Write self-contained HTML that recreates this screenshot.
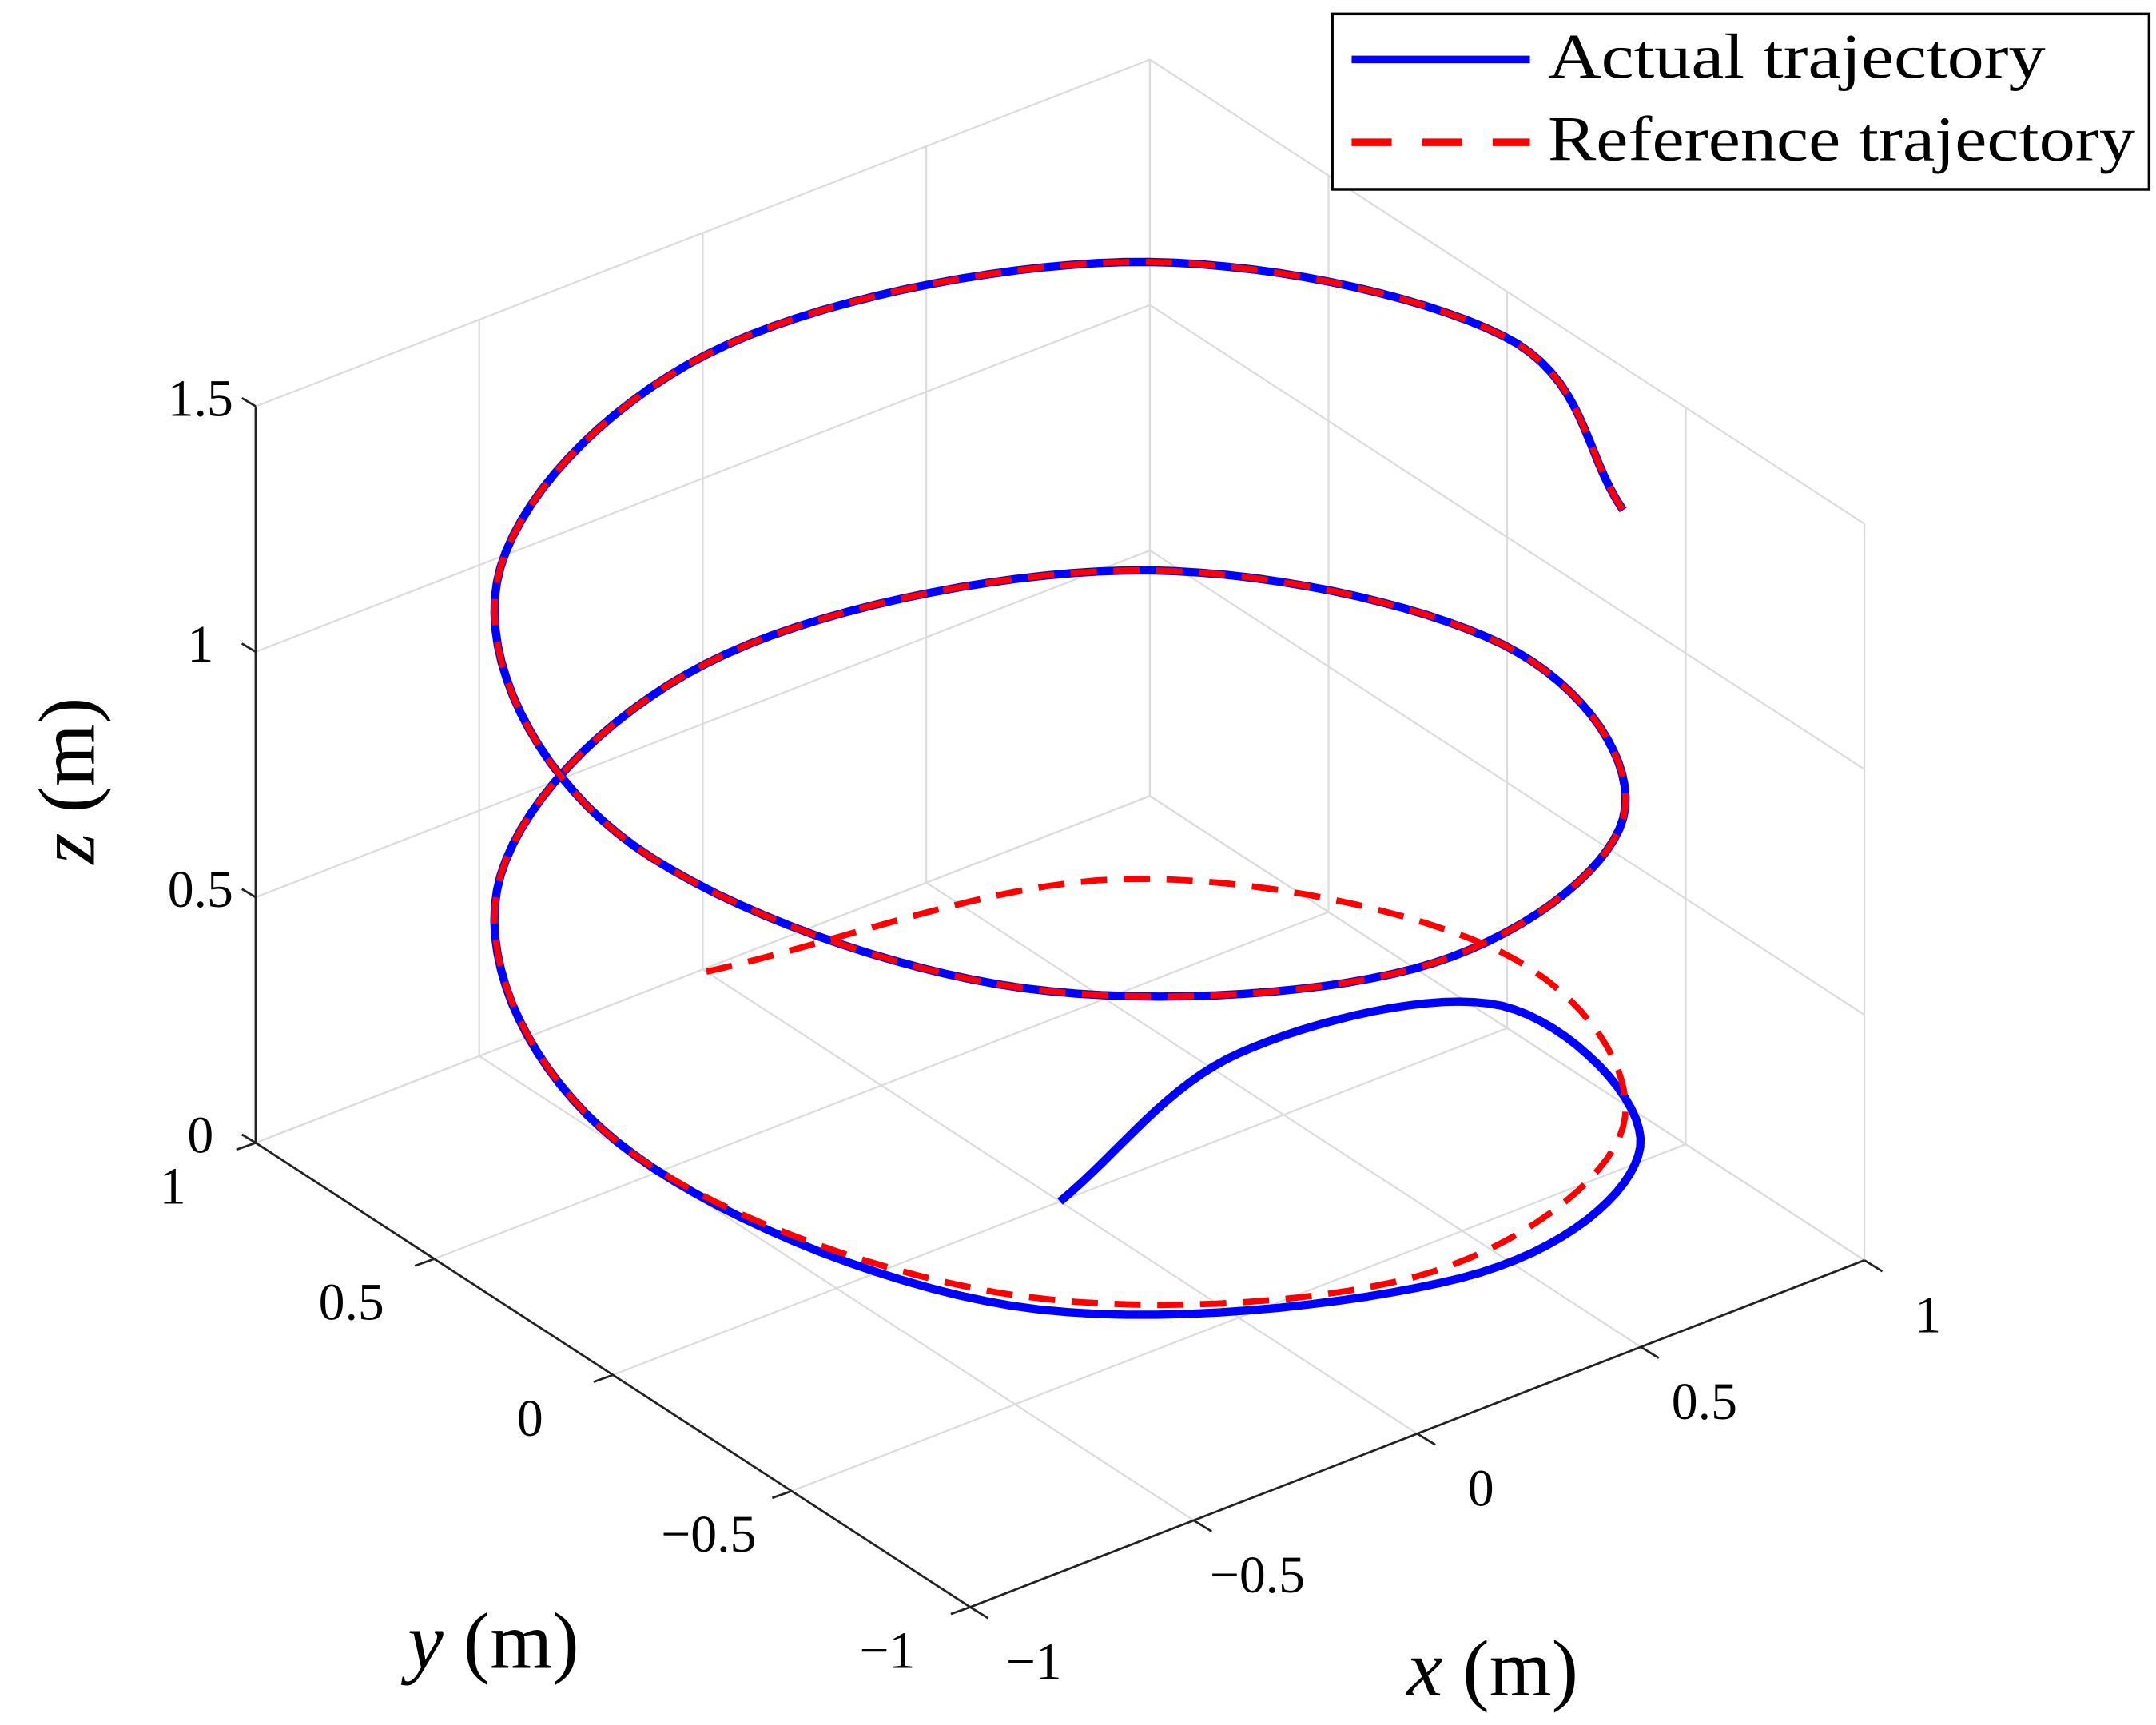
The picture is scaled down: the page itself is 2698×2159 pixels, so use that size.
<!DOCTYPE html>
<html><head><meta charset="utf-8">
<style>html,body{margin:0;padding:0;background:#fff}svg{display:block}
text{font-family:"Liberation Serif",serif;fill:#000}</style></head>
<body>
<svg id="chart" xmlns="http://www.w3.org/2000/svg" width="2698" height="2159" viewBox="0 0 1560 1248.3">
<g id="grid"></g>
<g id="axes"></g>
<g id="series"></g>
<text transform="translate(68,565) rotate(-90)" text-anchor="middle" font-size="58"><tspan font-style="italic">z</tspan> (m)</text>
<text x="357" y="1207" text-anchor="middle" font-size="58"><tspan font-style="italic">y</tspan> (m)</text>
<text x="1080" y="1227" text-anchor="middle" font-size="58"><tspan font-style="italic">x</tspan> (m)</text>
<g>
<rect x="964" y="10" width="591" height="127" fill="#fff" stroke="#000" stroke-width="2"/>
<line x1="978" y1="43" x2="1107" y2="43" stroke="#0000ff" stroke-width="5.5"/>
<text x="1120" y="56" font-size="46" textLength="360" lengthAdjust="spacingAndGlyphs">Actual trajectory</text>
<line x1="978" y1="103" x2="1107" y2="103" stroke="#ff0000" stroke-width="5.5" stroke-dasharray="29,22"/>
<text x="1120" y="116" font-size="46" textLength="425" lengthAdjust="spacingAndGlyphs">Reference trajectory</text>
</g>
</svg>
<script>
// data
const xTicks=[-1,-0.5,0,0.5,1];
const yTicks=[-1,-0.5,0,0.5,1];
const zTicks=[0,0.5,1,1.5];
const xTickLabels=["\u22121","\u22120.5","0","0.5","1"];
const yTickLabels=["\u22121","\u22120.5","0","0.5","1"];
const zTickLabels=["0","0.5","1","1.5"];
const refX=[0,0.700,0.99,0.700,0,-0.700,-0.99,-0.700,0,0.700,0.99,0.700,0,-0.700,-0.99,-0.700,0,0.700,0.99,0.700];
const refY=[0.99,0.700,0,-0.700,-0.99,-0.700,0,0.700,0.99,0.700,0,-0.700,-0.99,-0.700,0,0.700,0.99,0.700,0,-0.700];
const refZ=[0,0.0785,0.157,0.236,0.314,0.393,0.471,0.550,0.628,0.707,0.785,0.864,0.942,1.021,1.100,1.178,1.257,1.335,1.414,1.492];
const actX=[0,0.53,0.914,0.708,0.079,-0.705,-0.99,-0.700,0,0.700,0.99,0.700,0,-0.700,-0.99,-0.700,0,0.700,0.99,0.700];
const actY=[0,0.16,-0.094,-0.738,-1.023,-0.747,0,0.700,0.99,0.700,0,-0.700,-0.99,-0.700,0,0.700,0.99,0.700,0,-0.700];
const actZ=[0,0.04,0.12,0.21,0.30,0.39,0.471,0.550,0.628,0.707,0.785,0.864,0.942,1.021,1.100,1.178,1.257,1.335,1.414,1.492];

const NS="http://www.w3.org/2000/svg";
const O=[767,869.5], EX=[323.5,-125.5], EY=[-258.5,-168], EZ=355.3;
function P(x,y,z){return [O[0]+EX[0]*x+EY[0]*y, O[1]+EX[1]*x+EY[1]*y-EZ*z];}
function line(g,a,b,stroke,w,name){const l=document.createElementNS(NS,'line');
l.setAttribute('x1',a[0]);l.setAttribute('y1',a[1]);l.setAttribute('x2',b[0]);l.setAttribute('y2',b[1]);
l.setAttribute('stroke',stroke);l.setAttribute('stroke-width',w);


g.appendChild(l);}
function txt(g,p,s,name){const t=document.createElementNS(NS,'text');
t.setAttribute('x',p[0]);t.setAttribute('y',p[1]);t.setAttribute('font-size','38');t.setAttribute('text-anchor','middle');
t.textContent=s;


g.appendChild(t);}
const grid=document.getElementById('grid'), axes=document.getElementById('axes'), ser=document.getElementById('series');
const gc='#dcdcdc';
xTicks.forEach(x=>line(grid,P(x,-1,0),P(x,1,0),gc,1.3,'floor-grid-x'));
yTicks.forEach(y=>line(grid,P(-1,y,0),P(1,y,0),gc,1.3,'floor-grid-y'));
xTicks.forEach(x=>line(grid,P(x,1,0),P(x,1,1.5),gc,1.3,'back-wall-grid-x'));
zTicks.forEach(z=>line(grid,P(-1,1,z),P(1,1,z),gc,1.3,'back-wall-grid-z'));
yTicks.forEach(y=>line(grid,P(1,y,0),P(1,y,1.5),gc,1.3,'side-wall-grid-y'));
zTicks.forEach(z=>line(grid,P(1,-1,z),P(1,1,z),gc,1.3,'side-wall-grid-z'));
line(axes,P(-1,1,0),P(-1,1,1.5),'#222',1.6,'z-axis-line');
line(axes,P(-1,1,0),P(-1,-1,0),'#222',1.6,'y-axis-line');
line(axes,P(-1,-1,0),P(1,-1,0),'#222',1.6,'x-axis-line');
zTicks.forEach((z,i)=>{const p=P(-1,1,z);line(axes,p,[p[0]-10,p[1]-6],'#222',1.6,'z-tick');
 txt(axes,[p[0]-40,p[1]+7],zTickLabels[i],'z-tick-label');});
yTicks.forEach((y,i)=>{const p=P(-1,y,0);line(axes,p,[p[0]-14,p[1]+5],'#222',1.6,'y-tick');
 txt(axes,[p[0]-60,p[1]+44],yTickLabels[i],'y-tick-label');});
xTicks.forEach((x,i)=>{const p=P(x,-1,0);line(axes,p,[p[0]+13,p[1]+8],'#222',1.6,'x-tick');
 txt(axes,[p[0]+46,p[1]+52],xTickLabels[i],'x-tick-label');});
function pathFrom(X,Y,Z){const pts=X.map((x,i)=>[x,Y[i],Z[i]]);const n=pts.length;
 const first=[0,1,2].map(k=>2*pts[0][k]-pts[1][k]);
 const last=[0,1,2].map(k=>2*pts[n-1][k]-pts[n-2][k]);
 const ext=[first].concat(pts,[last]);const out=[];
 for(let i=1;i<ext.length-2;i++){const p0=ext[i-1],p1=ext[i],p2=ext[i+1],p3=ext[i+2];
  for(let s=0;s<16;s++){const t=s/16,t2=t*t,t3=t2*t;
   const c=[0,1,2].map(k=>0.5*((2*p1[k])+(-p0[k]+p2[k])*t+(2*p0[k]-5*p1[k]+4*p2[k]-p3[k])*t2+(-p0[k]+3*p1[k]-3*p2[k]+p3[k])*t3));
   out.push(P(c[0],c[1],c[2]));}}
 const l=pts[n-1];out.push(P(l[0],l[1],l[2]));
 return 'M'+out.map(p=>p[0].toFixed(1)+','+p[1].toFixed(1)).join('L');}
function addPath(d,stroke,w,dash,name){const e=document.createElementNS(NS,'path');e.setAttribute('d',d);
 e.setAttribute('fill','none');e.setAttribute('stroke',stroke);e.setAttribute('stroke-width',w);
 if(dash)e.setAttribute('stroke-dasharray',dash);
 
 
 ser.appendChild(e);}
addPath(pathFrom(actX,actY,actZ),'#0000ff','6',null,'actual-trajectory-line');
addPath(pathFrom(refX,refY,refZ),'#ff0000','4.5','19,12','reference-trajectory-line');
</script>
</body></html>
